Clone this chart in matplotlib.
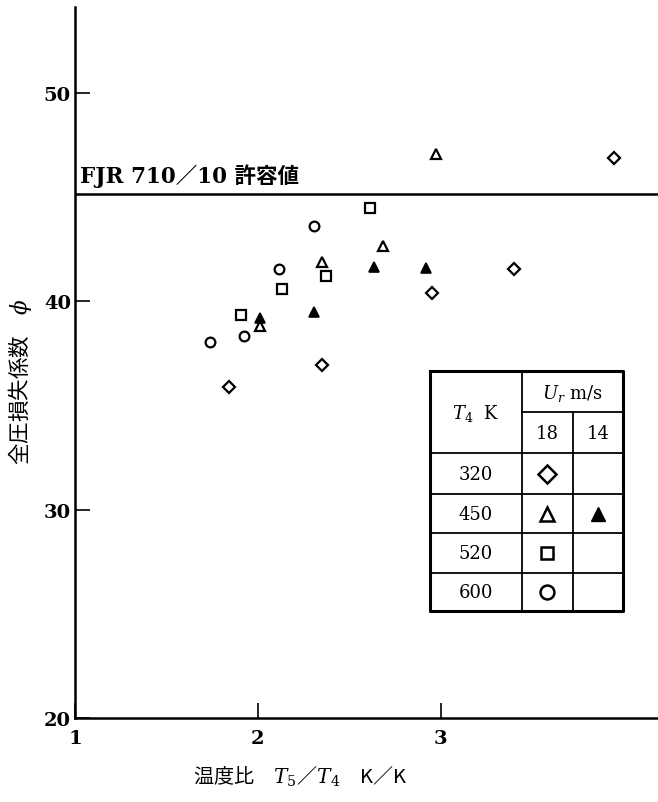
import numpy as np
import matplotlib.pyplot as plt

plt.rcParams['font.family'] = ['DejaVu Serif', 'Noto Sans CJK JP']
plt.rcParams['mathtext.fontset'] = 'dejavuserif'

# T4 = 320 K, Ur = 18 m/s  (diamonds)
x_320 = [1.84, 2.35, 2.955, 3.40, 3.95]
y_320 = [35.9, 36.95, 40.4, 41.55, 46.9]
# T4 = 450 K, Ur = 18 m/s  (open triangles)
x_450 = [2.973, 2.686, 2.353, 2.014]
y_450 = [47.05, 42.65, 41.9, 38.8]
# T4 = 450 K, Ur = 14 m/s  (filled triangles)
x_450b = [2.635, 2.92, 2.308, 2.014]
y_450b = [41.65, 41.6, 39.5, 39.2]
# T4 = 520 K  (squares)
x_520 = [2.616, 2.375, 2.133, 1.91]
y_520 = [44.5, 41.2, 40.6, 39.35]
# T4 = 600 K  (circles)
x_600 = [2.308, 2.114, 1.922, 1.74]
y_600 = [43.6, 41.55, 38.35, 38.05]

limit_value = 45.15
limit_label = 'FJR 710／10 許容値'

xticks = [1, 2, 3]
yticks = [20, 30, 40, 50]

temps = ['320', '450', '520', '600']
speeds = ['18', '14']

W, H = 658, 803
fig = plt.figure(figsize=(W / 100, H / 100), dpi=100)
ax = fig.add_axes([75 / W, 1 - 719 / H, 1 - 75 / W, (719 - 8) / H])

mk = dict(linestyle='none', markerfacecolor='white', markeredgecolor='black',
          markeredgewidth=1.6)
ax.plot(x_320, y_320, marker='D', markersize=6.5, **mk)
ax.plot(x_450, y_450, marker='^', markersize=7, **mk)
ax.plot(x_450b, y_450b, marker='^', markersize=7, linestyle='none',
        color='black', markeredgewidth=1.2)
ax.plot(x_520, y_520, marker='s', markersize=6.5, **mk)
ax.plot(x_600, y_600, marker='o', markersize=7, **mk)

ax.axhline(limit_value, color='black', lw=1.8)
ax.text(1.03, limit_value + 0.35, limit_label, fontsize=15.5, fontweight='bold',
        family=['DejaVu Serif', 'Noto Sans CJK JP'], va='bottom', ha='left')

ax.set_xlim(1, 4.19)
ax.set_ylim(20, 54.13)
ax.spines['top'].set_visible(False)
ax.spines['right'].set_visible(False)
ax.spines['left'].set_linewidth(1.8)
ax.spines['bottom'].set_linewidth(1.8)
ax.set_xticks(xticks)
ax.set_yticks(yticks)
ax.tick_params(direction='in', length=11, width=1.2, labelsize=14)
ax.tick_params(axis='x', pad=8)
ax.tick_params(axis='y', pad=3)
for lab in ax.get_xticklabels() + ax.get_yticklabels():
    lab.set_fontweight('bold')

fig.text(20 / W, 1 - 382 / H, '全圧損失係数　$\\phi$', rotation=90,
         ha='center', va='center', fontsize=15.5,
         family=['Noto Sans CJK JP', 'DejaVu Serif'])
fig.text(300 / W, 1 - 776 / H, '温度比　$T_5$／$T_4$　K／K',
         ha='center', va='center', fontsize=14.5,
         family=['Noto Sans CJK JP', 'DejaVu Serif'])

# legend table
L, R, T, B = 430, 623, 372, 612
tab = fig.add_axes([L / W, 1 - B / H, (R - L) / W, (B - T) / H])
tab.set_xlim(L, R)
tab.set_ylim(B, T)
tab.axis('off')
tab.plot([L, R, R, L, L], [T, T, B, B, T], color='black', lw=2.2,
         clip_on=False)
c1, c2 = 521.7, 572.7
tab.plot([c1, c1], [T, B], color='black', lw=1.3)
tab.plot([c2, c2], [413, B], color='black', lw=1.3)
tab.plot([c1, R], [413, 413], color='black', lw=1.3)
rows = [454, 495, 534, 574]
for r in rows:
    tab.plot([L, R], [r, r], color='black', lw=1.3)

tab.text((L + c1) / 2, 413, '$T_4$  K', ha='center', va='center', fontsize=13)
tab.text((c1 + R) / 2, 393, '$U_r$ m/s', ha='center', va='center',
         fontsize=13)
tab.text((c1 + c2) / 2, 434, speeds[0], ha='center', va='center', fontsize=13)
tab.text((c2 + R) / 2, 434, speeds[1], ha='center', va='center', fontsize=13)

row_c = [(454 + 495) / 2, (495 + 534) / 2, (534 + 574) / 2, (574 + B) / 2]
for t, yc in zip(temps, row_c):
    tab.text((L + c1) / 2, yc, t, ha='center', va='center', fontsize=13)

mx = (c1 + c2) / 2
lk = dict(linestyle='none', markerfacecolor='white', markeredgecolor='black',
          markeredgewidth=1.8)
tab.plot([mx], [row_c[0]], marker='D', markersize=9, **lk)
tab.plot([mx], [row_c[1]], marker='^', markersize=10, **lk)
tab.plot([(c2 + R) / 2], [row_c[1]], marker='^', markersize=10,
         color='black', linestyle='none')
tab.plot([mx], [row_c[2]], marker='s', markersize=8.5, **lk)
tab.plot([mx], [row_c[3]], marker='o', markersize=10, **lk)

fig.savefig('out.png', dpi=100)
